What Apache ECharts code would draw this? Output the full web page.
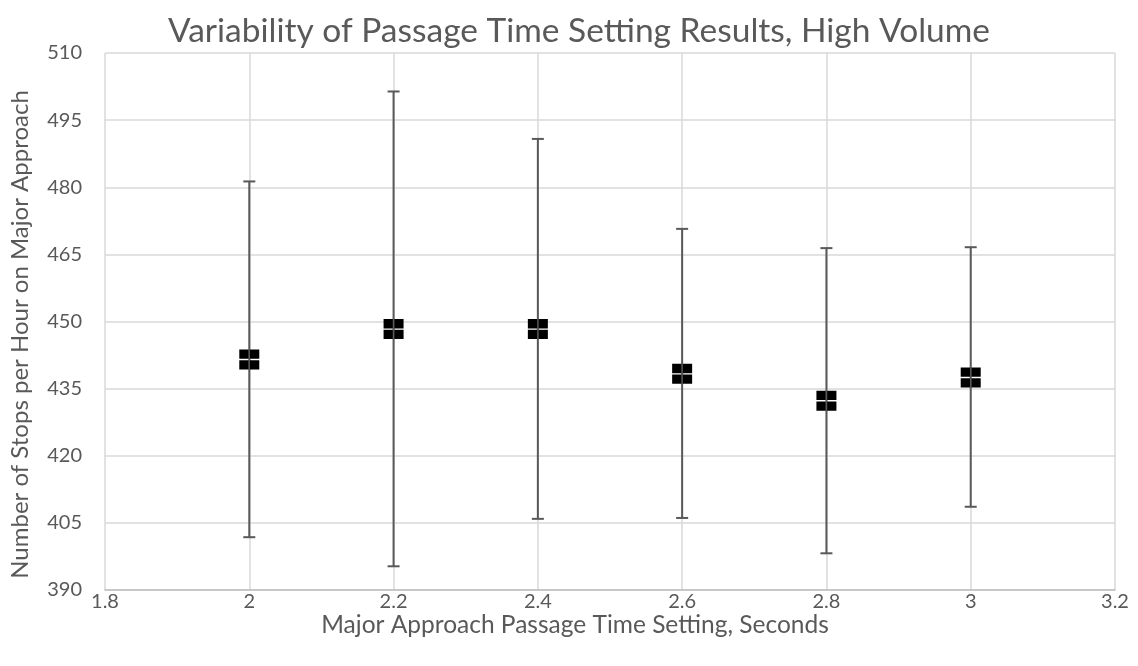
<!DOCTYPE html>
<html>
<head>
<meta charset="utf-8">
<script src="https://cdn.jsdelivr.net/npm/echarts@6/dist/echarts.min.js"></script>
<style>html,body{margin:0;padding:0;background:#fff}#c{width:1138px;height:666px}</style>
</head>
<body>
<div id="c"></div>
<script>
const passageTimes = [2.0, 2.2, 2.4, 2.6, 2.8, 3.0];
const meanStops   = [441.5, 448.3, 448.3, 438.3, 432.3, 437.5];
const upperStops  = [481.3, 501.4, 490.8, 470.7, 466.4, 466.6];
const lowerStops  = [401.8, 395.3, 405.9, 406.1, 398.2, 408.6];
const xTicks = [1.8, 2, 2.2, 2.4, 2.6, 2.8, 3, 3.2];
const yTicks = [390, 405, 420, 435, 450, 465, 480, 495, 510];

const FONT = 'Lato';
const GREY = '#595959';
const chart = echarts.init(document.getElementById('c'));
const errData = passageTimes.map((x, i) => [x, lowerStops[i], upperStops[i]]);
const meanData = passageTimes.map((x, i) => [x, meanStops[i]]);
const markerPath = 'path://M0,0H9.3V9.3H0Z M10.7,0H20V9.3H10.7Z M0,10.7H9.3V20H0Z M10.7,10.7H20V20H10.7Z';

chart.setOption({
  animation: false,
  title: {
    text: 'Variability of Passage Time Setting Results, High Volume',
    left: 574, top: 9, textAlign: 'center',
    textStyle: { fontFamily: FONT, fontSize: 33.5, fontWeight: 'normal', color: GREY }
  },
  grid: { left: 103, top: 53, right: 23, bottom: 76 },
  xAxis: {
    type: 'value', min: 1.8, max: 3.2, interval: 0.2,
    name: 'Major Approach Passage Time Setting, Seconds',
    nameLocation: 'middle', nameGap: 23, nameMoveOverlap: false,
    nameTextStyle: { fontFamily: FONT, fontSize: 24.5, color: GREY, padding: [0, 70, 0, 0] },
    axisLine: { show: true, lineStyle: { color: '#bfbfbf', width: 1.5 } },
    axisTick: { show: false },
    axisLabel: { fontFamily: FONT, fontSize: 20, color: GREY, margin: 2,
      formatter: v => { const r = Math.round(v * 10) / 10; return xTicks.includes(r) ? String(r) : ''; } },
    splitLine: { show: true, lineStyle: { color: '#d9d9d9', width: 1.5 } }
  },
  yAxis: {
    type: 'value', min: 390, max: 510, interval: 15,
    name: 'Number of Stops per Hour on Major Approach',
    nameLocation: 'middle', nameGap: 73, nameMoveOverlap: false,
    nameTextStyle: { fontFamily: FONT, fontSize: 24, color: GREY, padding: [0, 26, 0, 0] },
    axisLine: { show: false },
    axisTick: { show: false },
    axisLabel: { fontFamily: FONT, fontSize: 20, color: GREY, margin: 23,
      formatter: v => yTicks.includes(v) ? String(v) : '' },
    splitLine: { show: true, lineStyle: { color: '#d9d9d9', width: 1.5 } }
  },
  series: [
    {
      type: 'custom',
      data: errData,
      renderItem: (params, api) => {
        const x = api.value(0);
        const lo = api.coord([x, api.value(1)]);
        const hi = api.coord([x, api.value(2)]);
        const hw = 6;
        const style = { stroke: GREY, lineWidth: 2 };
        return {
          type: 'group',
          children: [
            { type: 'line', shape: { x1: lo[0], y1: lo[1], x2: hi[0], y2: hi[1] }, style },
            { type: 'line', shape: { x1: lo[0] - hw, y1: lo[1], x2: lo[0] + hw, y2: lo[1] }, style },
            { type: 'line', shape: { x1: hi[0] - hw, y1: hi[1], x2: hi[0] + hw, y2: hi[1] }, style }
          ]
        };
      },
      z: 2
    },
    {
      type: 'scatter',
      data: meanData,
      symbol: markerPath,
      symbolSize: 20,
      itemStyle: { color: '#000000', opacity: 1 },
      z: 3
    }
  ]
});
</script>
</body>
</html>
